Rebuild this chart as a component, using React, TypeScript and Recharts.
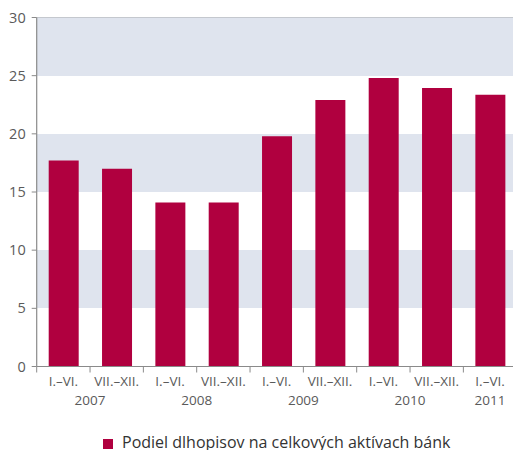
import React from "react";
import { BarChart, Bar, XAxis, YAxis, CartesianGrid, ReferenceLine } from "recharts";

const periods = ["I.–VI.", "VII.–XII.", "I.–VI.", "VII.–XII.", "I.–VI.", "VII.–XII.", "I.–VI.", "VII.–XII.", "I.–VI."];
const periodYears = ["2007", "2007", "2008", "2008", "2009", "2009", "2010", "2010", "2011"];
const values = [17.7, 17.0, 14.1, 14.1, 19.8, 22.9, 24.8, 23.95, 23.35];
const yTicks = [0, 5, 10, 15, 20, 25, 30];
const seriesName = "Podiel dlhopisov na celkových aktívach bánk";

const data = periods.map((p, i) => ({ key: String(i), period: p, year: periodYears[i], value: values[i] }));

const CHART_W = 530;
const CHART_H = 450;
const LEFT = 36.7;
const RIGHT_EDGE = 516.7;
const TOP = 17.5;
const BOTTOM = 366.5;
const X_AXIS_H = 50;
const BAND = (RIGHT_EDGE - LEFT) / periods.length;
const FONT = "'Open Sans', sans-serif";
const TEXT = "#5a5a5a";
const AXIS = "#8a8a8a";
const BAR = "#b0003f";
const STRIPE = "#dfe4ee";

const XTick = (props: any) => {
  const { x, y, index } = props;
  const d = data[index];
  if (!d) return null;
  const first = index === 0 || data[index - 1].year !== d.year;
  let yearX = x;
  if (first && data[index + 1] && data[index + 1].year === d.year) yearX = x + BAND / 2;
  return (
    <g>
      <line x1={x - BAND / 2} x2={x - BAND / 2} y1={y} y2={y + 6} stroke={AXIS} strokeWidth={1} />
      <text x={x} y={y + 19.5} textAnchor="middle" fill={TEXT} fontSize={13.5} fontFamily={FONT}>
        {d.period}
      </text>
      {first && (
        <text x={yearX} y={y + 38.5} textAnchor="middle" fill={TEXT} fontSize={13.5} fontFamily={FONT}>
          {d.year}
        </text>
      )}
    </g>
  );
};

export default function App() {
  return (
    <div style={{ position: "absolute", left: 0, top: 0, width: 513, height: 450, overflow: "hidden", background: "#fff" }}>
      <BarChart
        width={CHART_W}
        height={CHART_H}
        data={data}
        margin={{ top: TOP, right: CHART_W - RIGHT_EDGE, left: 0, bottom: CHART_H - BOTTOM - X_AXIS_H }}
      >
        <CartesianGrid
          vertical={false}
          horizontal={true}
          stroke="transparent"
          horizontalFill={["#ffffff", STRIPE]}
          fillOpacity={1}
        />
        <ReferenceLine y={30} stroke="#c4c8ce" strokeWidth={1} />
        <XAxis
          dataKey="key"
          interval={0}
          height={X_AXIS_H}
          tickSize={0}
          tickMargin={0}
          tickLine={false}
          axisLine={{ stroke: AXIS, strokeWidth: 1.2 }}
          tick={<XTick />}
        />
        <YAxis
          domain={[0, 30]}
          ticks={yTicks}
          width={LEFT}
          tickSize={5}
          tickMargin={6}
          axisLine={{ stroke: AXIS, strokeWidth: 1.2 }}
          tickLine={{ stroke: AXIS, strokeWidth: 1 }}
          tick={{ fill: TEXT, fontSize: 14.5, fontFamily: FONT }}
          interval={0}
        />
        <Bar dataKey="value" name={seriesName} fill={BAR} barSize={30} isAnimationActive={false} />
      </BarChart>
      <div
        style={{
          position: "absolute",
          left: 103,
          top: 431,
          display: "flex",
          alignItems: "center",
          fontFamily: FONT,
          fontSize: 16,
          color: "#333",
          whiteSpace: "nowrap",
        }}
      >
        <span style={{ display: "inline-block", width: 10, height: 10, background: BAR, marginRight: 9, marginTop: 4 }} />
        <span>{seriesName}</span>
      </div>
    </div>
  );
}
